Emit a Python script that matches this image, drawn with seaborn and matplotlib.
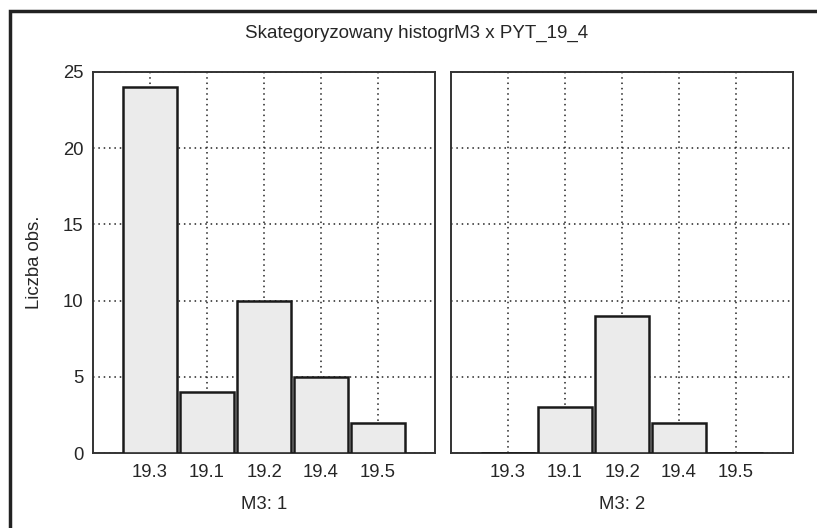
import matplotlib
matplotlib.use("Agg")
import matplotlib.pyplot as plt
import seaborn as sns
import pandas as pd
from matplotlib.patches import Rectangle

categories = ["19.3", "19.1", "19.2", "19.4", "19.5"]
counts_m3_1 = [24, 4, 10, 5, 2]
counts_m3_2 = [0, 3, 9, 2, 0]
panel_labels = ["M3: 1", "M3: 2"]
title = "Skategoryzowany histogrM3 x PYT_19_4"
y_label = "Liczba obs."
y_ticks = [0, 5, 10, 15, 20, 25]

sns.set_theme(style="white")
plt.rcParams["font.family"] = ["Liberation Sans", "DejaVu Sans"]

W, H = 817, 528
FS = 13.3
fig = plt.figure(figsize=(W / 100, H / 100), dpi=100)
fig.patch.set_facecolor("white")

# outer frame (left and top edges)
fig.add_artist(Rectangle((10 / W, -0.2), 1.2, (H - 11) / H + 0.2,
                         transform=fig.transFigure, fill=False,
                         edgecolor="#222222", linewidth=2.5))

fig.text(0.51, 1 - 33 / H, title, ha="center", va="center", fontsize=13.5)

ax_bottom = 1 - 453 / H
ax_h = (453 - 72) / H
ax_w = 342 / W
lefts = [93 / W, 451 / W]

for i, (vals, lab) in enumerate(zip([counts_m3_1, counts_m3_2], panel_labels)):
    ax = fig.add_axes([lefts[i], ax_bottom, ax_w, ax_h])
    df = pd.DataFrame({"cat": categories, "n": vals})
    sns.barplot(data=df, x="cat", y="n", ax=ax, color="#ebebeb",
                saturation=1, width=0.93, edgecolor="#1a1a1a",
                linewidth=1.8, zorder=3)
    ax.set_xlim(-1, len(categories))
    ax.set_ylim(0, 25)
    ax.set_yticks(y_ticks)
    ax.set_xticks(range(len(categories)))
    ax.set_xticklabels(categories, fontsize=FS)
    ax.grid(True, linestyle=(0, (1, 2.5)), color="#222222", linewidth=1.1, zorder=0)
    ax.set_axisbelow(True)
    ax.tick_params(length=0, pad=8)
    for s in ax.spines.values():
        s.set_visible(True)
        s.set_color("#333333")
        s.set_linewidth(1.4)
    ax.set_xlabel(lab, fontsize=FS, labelpad=11)
    if i == 0:
        ax.set_ylabel(y_label, fontsize=FS, labelpad=14)
        ax.tick_params(axis="y", labelsize=FS, pad=7)
    else:
        ax.set_ylabel("")
        ax.set_yticklabels([])

fig.savefig("out.png", dpi=100, facecolor="white")
